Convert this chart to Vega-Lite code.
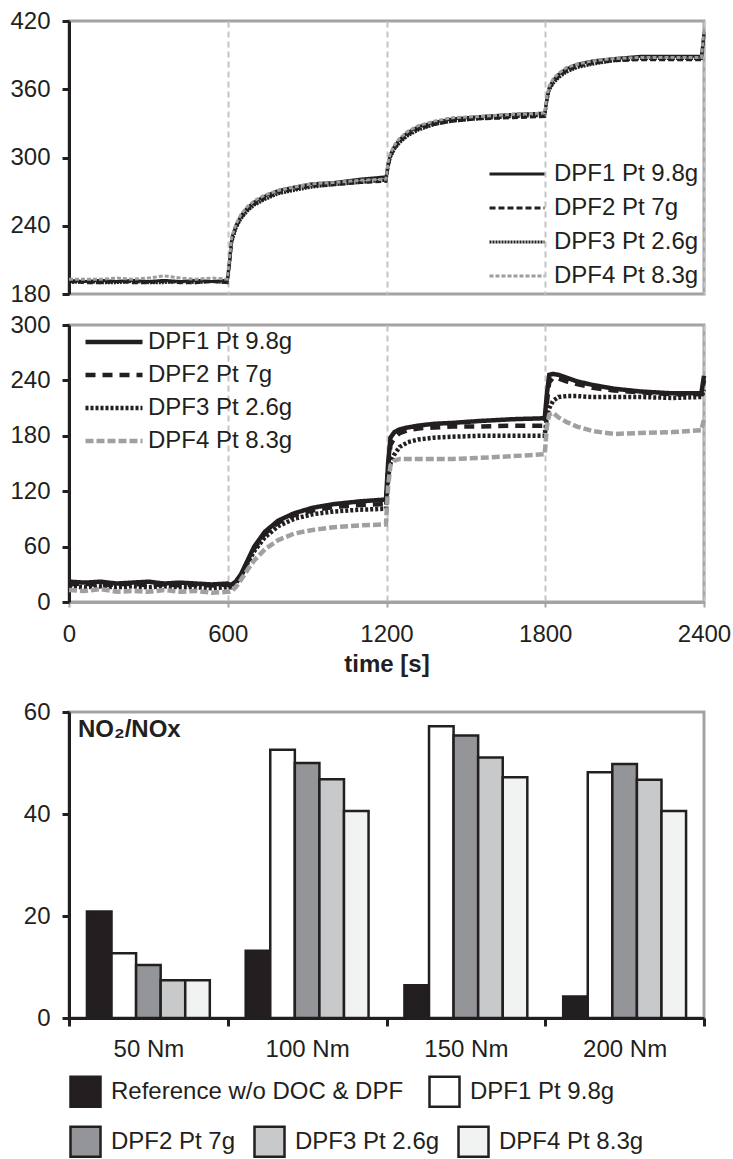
{
  "$schema": "https://vega.github.io/schema/vega-lite/v6.json",
  "background": "white",
  "padding": {"left": 8, "top": 7, "right": 5, "bottom": 0},
  "config": {
    "font": "Liberation Sans",
    "view": {"stroke": "#a3a3a3", "strokeWidth": 3},
    "axis": {"labelFont": "Liberation Sans", "labelFontSize": 24, "labelColor": "#231f20", "labelFlush": false, "domainColor": "#231f20", "domainWidth": 3, "tickColor": "#231f20", "tickWidth": 3, "tickSize": 7, "labelPadding": 12, "titleFont": "Liberation Sans", "titleFontSize": 24, "titleFontWeight": "bold", "titleColor": "#231f20", "grid": false},
    "legend": {"labelFont": "Liberation Sans", "labelFontSize": 24, "labelColor": "#231f20", "labelLimit": 500, "layout": {"bottom": {"anchor": "start", "direction": "vertical", "margin": 13}}}
  },
  "datasets": {
    "top": [
      {"t":0,"s":"DPF1 Pt 9.8g","v":192},{"t":60,"s":"DPF1 Pt 9.8g","v":191},{"t":120,"s":"DPF1 Pt 9.8g","v":192},{"t":180,"s":"DPF1 Pt 9.8g","v":191},{"t":240,"s":"DPF1 Pt 9.8g","v":192},{"t":300,"s":"DPF1 Pt 9.8g","v":191},{"t":360,"s":"DPF1 Pt 9.8g","v":192},{"t":420,"s":"DPF1 Pt 9.8g","v":191},{"t":480,"s":"DPF1 Pt 9.8g","v":192},{"t":540,"s":"DPF1 Pt 9.8g","v":191},{"t":598,"s":"DPF1 Pt 9.8g","v":192},{"t":606,"s":"DPF1 Pt 9.8g","v":208},{"t":615,"s":"DPF1 Pt 9.8g","v":229},{"t":630,"s":"DPF1 Pt 9.8g","v":240},{"t":650,"s":"DPF1 Pt 9.8g","v":249},{"t":675,"s":"DPF1 Pt 9.8g","v":256},{"t":700,"s":"DPF1 Pt 9.8g","v":261},{"t":740,"s":"DPF1 Pt 9.8g","v":266},{"t":790,"s":"DPF1 Pt 9.8g","v":271},{"t":850,"s":"DPF1 Pt 9.8g","v":274},{"t":920,"s":"DPF1 Pt 9.8g","v":277},{"t":1000,"s":"DPF1 Pt 9.8g","v":278},{"t":1100,"s":"DPF1 Pt 9.8g","v":281},{"t":1198,"s":"DPF1 Pt 9.8g","v":283},{"t":1206,"s":"DPF1 Pt 9.8g","v":295},{"t":1215,"s":"DPF1 Pt 9.8g","v":303},{"t":1230,"s":"DPF1 Pt 9.8g","v":310},{"t":1250,"s":"DPF1 Pt 9.8g","v":316},{"t":1280,"s":"DPF1 Pt 9.8g","v":322},{"t":1320,"s":"DPF1 Pt 9.8g","v":327},{"t":1380,"s":"DPF1 Pt 9.8g","v":331},{"t":1450,"s":"DPF1 Pt 9.8g","v":334},{"t":1550,"s":"DPF1 Pt 9.8g","v":336},{"t":1680,"s":"DPF1 Pt 9.8g","v":338},{"t":1798,"s":"DPF1 Pt 9.8g","v":339},{"t":1806,"s":"DPF1 Pt 9.8g","v":352},{"t":1815,"s":"DPF1 Pt 9.8g","v":362},{"t":1830,"s":"DPF1 Pt 9.8g","v":368},{"t":1850,"s":"DPF1 Pt 9.8g","v":373},{"t":1880,"s":"DPF1 Pt 9.8g","v":378},{"t":1920,"s":"DPF1 Pt 9.8g","v":382},{"t":1980,"s":"DPF1 Pt 9.8g","v":385},{"t":2060,"s":"DPF1 Pt 9.8g","v":387},{"t":2160,"s":"DPF1 Pt 9.8g","v":389},{"t":2280,"s":"DPF1 Pt 9.8g","v":389},{"t":2390,"s":"DPF1 Pt 9.8g","v":389},{"t":2400,"s":"DPF1 Pt 9.8g","v":410},
      {"t":0,"s":"DPF2 Pt 7g","v":191},{"t":60,"s":"DPF2 Pt 7g","v":190},{"t":120,"s":"DPF2 Pt 7g","v":190},{"t":180,"s":"DPF2 Pt 7g","v":191},{"t":240,"s":"DPF2 Pt 7g","v":190},{"t":300,"s":"DPF2 Pt 7g","v":190},{"t":360,"s":"DPF2 Pt 7g","v":191},{"t":420,"s":"DPF2 Pt 7g","v":190},{"t":480,"s":"DPF2 Pt 7g","v":190},{"t":540,"s":"DPF2 Pt 7g","v":191},{"t":598,"s":"DPF2 Pt 7g","v":190},{"t":606,"s":"DPF2 Pt 7g","v":205},{"t":615,"s":"DPF2 Pt 7g","v":226},{"t":630,"s":"DPF2 Pt 7g","v":238},{"t":650,"s":"DPF2 Pt 7g","v":247},{"t":675,"s":"DPF2 Pt 7g","v":254},{"t":700,"s":"DPF2 Pt 7g","v":259},{"t":740,"s":"DPF2 Pt 7g","v":264},{"t":790,"s":"DPF2 Pt 7g","v":269},{"t":850,"s":"DPF2 Pt 7g","v":272},{"t":920,"s":"DPF2 Pt 7g","v":275},{"t":1000,"s":"DPF2 Pt 7g","v":276},{"t":1100,"s":"DPF2 Pt 7g","v":278},{"t":1198,"s":"DPF2 Pt 7g","v":279},{"t":1206,"s":"DPF2 Pt 7g","v":292},{"t":1215,"s":"DPF2 Pt 7g","v":301},{"t":1230,"s":"DPF2 Pt 7g","v":308},{"t":1250,"s":"DPF2 Pt 7g","v":314},{"t":1280,"s":"DPF2 Pt 7g","v":320},{"t":1320,"s":"DPF2 Pt 7g","v":325},{"t":1380,"s":"DPF2 Pt 7g","v":329},{"t":1450,"s":"DPF2 Pt 7g","v":332},{"t":1550,"s":"DPF2 Pt 7g","v":334},{"t":1680,"s":"DPF2 Pt 7g","v":335},{"t":1798,"s":"DPF2 Pt 7g","v":336},{"t":1806,"s":"DPF2 Pt 7g","v":350},{"t":1815,"s":"DPF2 Pt 7g","v":360},{"t":1830,"s":"DPF2 Pt 7g","v":366},{"t":1850,"s":"DPF2 Pt 7g","v":371},{"t":1880,"s":"DPF2 Pt 7g","v":376},{"t":1920,"s":"DPF2 Pt 7g","v":380},{"t":1980,"s":"DPF2 Pt 7g","v":383},{"t":2060,"s":"DPF2 Pt 7g","v":385},{"t":2160,"s":"DPF2 Pt 7g","v":386},{"t":2280,"s":"DPF2 Pt 7g","v":386},{"t":2390,"s":"DPF2 Pt 7g","v":386},{"t":2400,"s":"DPF2 Pt 7g","v":408},
      {"t":0,"s":"DPF3 Pt 2.6g","v":190},{"t":60,"s":"DPF3 Pt 2.6g","v":191},{"t":120,"s":"DPF3 Pt 2.6g","v":190},{"t":180,"s":"DPF3 Pt 2.6g","v":190},{"t":240,"s":"DPF3 Pt 2.6g","v":191},{"t":300,"s":"DPF3 Pt 2.6g","v":190},{"t":360,"s":"DPF3 Pt 2.6g","v":190},{"t":420,"s":"DPF3 Pt 2.6g","v":191},{"t":480,"s":"DPF3 Pt 2.6g","v":190},{"t":540,"s":"DPF3 Pt 2.6g","v":191},{"t":598,"s":"DPF3 Pt 2.6g","v":190},{"t":606,"s":"DPF3 Pt 2.6g","v":204},{"t":615,"s":"DPF3 Pt 2.6g","v":225},{"t":630,"s":"DPF3 Pt 2.6g","v":237},{"t":650,"s":"DPF3 Pt 2.6g","v":246},{"t":675,"s":"DPF3 Pt 2.6g","v":253},{"t":700,"s":"DPF3 Pt 2.6g","v":258},{"t":740,"s":"DPF3 Pt 2.6g","v":263},{"t":790,"s":"DPF3 Pt 2.6g","v":268},{"t":850,"s":"DPF3 Pt 2.6g","v":271},{"t":920,"s":"DPF3 Pt 2.6g","v":274},{"t":1000,"s":"DPF3 Pt 2.6g","v":276},{"t":1100,"s":"DPF3 Pt 2.6g","v":278},{"t":1198,"s":"DPF3 Pt 2.6g","v":280},{"t":1206,"s":"DPF3 Pt 2.6g","v":291},{"t":1215,"s":"DPF3 Pt 2.6g","v":300},{"t":1230,"s":"DPF3 Pt 2.6g","v":307},{"t":1250,"s":"DPF3 Pt 2.6g","v":313},{"t":1280,"s":"DPF3 Pt 2.6g","v":319},{"t":1320,"s":"DPF3 Pt 2.6g","v":324},{"t":1380,"s":"DPF3 Pt 2.6g","v":329},{"t":1450,"s":"DPF3 Pt 2.6g","v":332},{"t":1550,"s":"DPF3 Pt 2.6g","v":334},{"t":1680,"s":"DPF3 Pt 2.6g","v":336},{"t":1798,"s":"DPF3 Pt 2.6g","v":337},{"t":1806,"s":"DPF3 Pt 2.6g","v":349},{"t":1815,"s":"DPF3 Pt 2.6g","v":359},{"t":1830,"s":"DPF3 Pt 2.6g","v":365},{"t":1850,"s":"DPF3 Pt 2.6g","v":370},{"t":1880,"s":"DPF3 Pt 2.6g","v":375},{"t":1920,"s":"DPF3 Pt 2.6g","v":379},{"t":1980,"s":"DPF3 Pt 2.6g","v":382},{"t":2060,"s":"DPF3 Pt 2.6g","v":385},{"t":2160,"s":"DPF3 Pt 2.6g","v":387},{"t":2280,"s":"DPF3 Pt 2.6g","v":387},{"t":2390,"s":"DPF3 Pt 2.6g","v":387},{"t":2400,"s":"DPF3 Pt 2.6g","v":407},
      {"t":0,"s":"DPF4 Pt 8.3g","v":193},{"t":60,"s":"DPF4 Pt 8.3g","v":193},{"t":120,"s":"DPF4 Pt 8.3g","v":193},{"t":180,"s":"DPF4 Pt 8.3g","v":194},{"t":240,"s":"DPF4 Pt 8.3g","v":193},{"t":300,"s":"DPF4 Pt 8.3g","v":194},{"t":360,"s":"DPF4 Pt 8.3g","v":196},{"t":420,"s":"DPF4 Pt 8.3g","v":194},{"t":480,"s":"DPF4 Pt 8.3g","v":193},{"t":540,"s":"DPF4 Pt 8.3g","v":194},{"t":598,"s":"DPF4 Pt 8.3g","v":193},{"t":606,"s":"DPF4 Pt 8.3g","v":210},{"t":615,"s":"DPF4 Pt 8.3g","v":230},{"t":630,"s":"DPF4 Pt 8.3g","v":241},{"t":650,"s":"DPF4 Pt 8.3g","v":250},{"t":675,"s":"DPF4 Pt 8.3g","v":257},{"t":700,"s":"DPF4 Pt 8.3g","v":262},{"t":740,"s":"DPF4 Pt 8.3g","v":267},{"t":790,"s":"DPF4 Pt 8.3g","v":271},{"t":850,"s":"DPF4 Pt 8.3g","v":274},{"t":920,"s":"DPF4 Pt 8.3g","v":277},{"t":1000,"s":"DPF4 Pt 8.3g","v":278},{"t":1100,"s":"DPF4 Pt 8.3g","v":280},{"t":1198,"s":"DPF4 Pt 8.3g","v":281},{"t":1206,"s":"DPF4 Pt 8.3g","v":296},{"t":1215,"s":"DPF4 Pt 8.3g","v":304},{"t":1230,"s":"DPF4 Pt 8.3g","v":311},{"t":1250,"s":"DPF4 Pt 8.3g","v":317},{"t":1280,"s":"DPF4 Pt 8.3g","v":323},{"t":1320,"s":"DPF4 Pt 8.3g","v":328},{"t":1380,"s":"DPF4 Pt 8.3g","v":332},{"t":1450,"s":"DPF4 Pt 8.3g","v":335},{"t":1550,"s":"DPF4 Pt 8.3g","v":336},{"t":1680,"s":"DPF4 Pt 8.3g","v":338},{"t":1798,"s":"DPF4 Pt 8.3g","v":339},{"t":1806,"s":"DPF4 Pt 8.3g","v":353},{"t":1815,"s":"DPF4 Pt 8.3g","v":363},{"t":1830,"s":"DPF4 Pt 8.3g","v":369},{"t":1850,"s":"DPF4 Pt 8.3g","v":374},{"t":1880,"s":"DPF4 Pt 8.3g","v":379},{"t":1920,"s":"DPF4 Pt 8.3g","v":382},{"t":1980,"s":"DPF4 Pt 8.3g","v":385},{"t":2060,"s":"DPF4 Pt 8.3g","v":387},{"t":2160,"s":"DPF4 Pt 8.3g","v":388},{"t":2280,"s":"DPF4 Pt 8.3g","v":388},{"t":2390,"s":"DPF4 Pt 8.3g","v":388},{"t":2400,"s":"DPF4 Pt 8.3g","v":412}
    ],
    "mid": [
      {"t":0,"s":"DPF1 Pt 9.8g","v":22},{"t":60,"s":"DPF1 Pt 9.8g","v":21},{"t":120,"s":"DPF1 Pt 9.8g","v":22},{"t":180,"s":"DPF1 Pt 9.8g","v":20},{"t":240,"s":"DPF1 Pt 9.8g","v":21},{"t":300,"s":"DPF1 Pt 9.8g","v":22},{"t":360,"s":"DPF1 Pt 9.8g","v":20},{"t":420,"s":"DPF1 Pt 9.8g","v":21},{"t":480,"s":"DPF1 Pt 9.8g","v":20},{"t":540,"s":"DPF1 Pt 9.8g","v":19},{"t":598,"s":"DPF1 Pt 9.8g","v":20},{"t":606,"s":"DPF1 Pt 9.8g","v":19},{"t":615,"s":"DPF1 Pt 9.8g","v":19},{"t":630,"s":"DPF1 Pt 9.8g","v":22},{"t":650,"s":"DPF1 Pt 9.8g","v":30},{"t":675,"s":"DPF1 Pt 9.8g","v":45},{"t":700,"s":"DPF1 Pt 9.8g","v":60},{"t":740,"s":"DPF1 Pt 9.8g","v":76},{"t":790,"s":"DPF1 Pt 9.8g","v":88},{"t":850,"s":"DPF1 Pt 9.8g","v":96},{"t":920,"s":"DPF1 Pt 9.8g","v":102},{"t":1000,"s":"DPF1 Pt 9.8g","v":106},{"t":1100,"s":"DPF1 Pt 9.8g","v":109},{"t":1198,"s":"DPF1 Pt 9.8g","v":111},{"t":1206,"s":"DPF1 Pt 9.8g","v":150},{"t":1215,"s":"DPF1 Pt 9.8g","v":178},{"t":1230,"s":"DPF1 Pt 9.8g","v":184},{"t":1250,"s":"DPF1 Pt 9.8g","v":187},{"t":1280,"s":"DPF1 Pt 9.8g","v":189},{"t":1320,"s":"DPF1 Pt 9.8g","v":191},{"t":1380,"s":"DPF1 Pt 9.8g","v":193},{"t":1450,"s":"DPF1 Pt 9.8g","v":194},{"t":1550,"s":"DPF1 Pt 9.8g","v":196},{"t":1680,"s":"DPF1 Pt 9.8g","v":198},{"t":1798,"s":"DPF1 Pt 9.8g","v":199},{"t":1806,"s":"DPF1 Pt 9.8g","v":225},{"t":1815,"s":"DPF1 Pt 9.8g","v":246},{"t":1830,"s":"DPF1 Pt 9.8g","v":247},{"t":1850,"s":"DPF1 Pt 9.8g","v":246},{"t":1880,"s":"DPF1 Pt 9.8g","v":243},{"t":1920,"s":"DPF1 Pt 9.8g","v":239},{"t":1980,"s":"DPF1 Pt 9.8g","v":235},{"t":2060,"s":"DPF1 Pt 9.8g","v":231},{"t":2160,"s":"DPF1 Pt 9.8g","v":228},{"t":2280,"s":"DPF1 Pt 9.8g","v":226},{"t":2390,"s":"DPF1 Pt 9.8g","v":226},{"t":2400,"s":"DPF1 Pt 9.8g","v":245},
      {"t":0,"s":"DPF2 Pt 7g","v":19},{"t":60,"s":"DPF2 Pt 7g","v":20},{"t":120,"s":"DPF2 Pt 7g","v":18},{"t":180,"s":"DPF2 Pt 7g","v":19},{"t":240,"s":"DPF2 Pt 7g","v":20},{"t":300,"s":"DPF2 Pt 7g","v":18},{"t":360,"s":"DPF2 Pt 7g","v":19},{"t":420,"s":"DPF2 Pt 7g","v":18},{"t":480,"s":"DPF2 Pt 7g","v":19},{"t":540,"s":"DPF2 Pt 7g","v":18},{"t":598,"s":"DPF2 Pt 7g","v":19},{"t":606,"s":"DPF2 Pt 7g","v":18},{"t":615,"s":"DPF2 Pt 7g","v":18},{"t":630,"s":"DPF2 Pt 7g","v":21},{"t":650,"s":"DPF2 Pt 7g","v":29},{"t":675,"s":"DPF2 Pt 7g","v":44},{"t":700,"s":"DPF2 Pt 7g","v":58},{"t":740,"s":"DPF2 Pt 7g","v":74},{"t":790,"s":"DPF2 Pt 7g","v":86},{"t":850,"s":"DPF2 Pt 7g","v":94},{"t":920,"s":"DPF2 Pt 7g","v":99},{"t":1000,"s":"DPF2 Pt 7g","v":103},{"t":1100,"s":"DPF2 Pt 7g","v":105},{"t":1198,"s":"DPF2 Pt 7g","v":106},{"t":1206,"s":"DPF2 Pt 7g","v":145},{"t":1215,"s":"DPF2 Pt 7g","v":170},{"t":1230,"s":"DPF2 Pt 7g","v":178},{"t":1250,"s":"DPF2 Pt 7g","v":183},{"t":1280,"s":"DPF2 Pt 7g","v":186},{"t":1320,"s":"DPF2 Pt 7g","v":188},{"t":1380,"s":"DPF2 Pt 7g","v":189},{"t":1450,"s":"DPF2 Pt 7g","v":190},{"t":1550,"s":"DPF2 Pt 7g","v":190},{"t":1680,"s":"DPF2 Pt 7g","v":191},{"t":1798,"s":"DPF2 Pt 7g","v":191},{"t":1806,"s":"DPF2 Pt 7g","v":215},{"t":1815,"s":"DPF2 Pt 7g","v":238},{"t":1830,"s":"DPF2 Pt 7g","v":243},{"t":1850,"s":"DPF2 Pt 7g","v":242},{"t":1880,"s":"DPF2 Pt 7g","v":239},{"t":1920,"s":"DPF2 Pt 7g","v":236},{"t":1980,"s":"DPF2 Pt 7g","v":232},{"t":2060,"s":"DPF2 Pt 7g","v":229},{"t":2160,"s":"DPF2 Pt 7g","v":227},{"t":2280,"s":"DPF2 Pt 7g","v":225},{"t":2390,"s":"DPF2 Pt 7g","v":225},{"t":2400,"s":"DPF2 Pt 7g","v":240},
      {"t":0,"s":"DPF3 Pt 2.6g","v":17},{"t":60,"s":"DPF3 Pt 2.6g","v":16},{"t":120,"s":"DPF3 Pt 2.6g","v":17},{"t":180,"s":"DPF3 Pt 2.6g","v":16},{"t":240,"s":"DPF3 Pt 2.6g","v":17},{"t":300,"s":"DPF3 Pt 2.6g","v":16},{"t":360,"s":"DPF3 Pt 2.6g","v":17},{"t":420,"s":"DPF3 Pt 2.6g","v":16},{"t":480,"s":"DPF3 Pt 2.6g","v":16},{"t":540,"s":"DPF3 Pt 2.6g","v":15},{"t":598,"s":"DPF3 Pt 2.6g","v":16},{"t":606,"s":"DPF3 Pt 2.6g","v":16},{"t":615,"s":"DPF3 Pt 2.6g","v":16},{"t":630,"s":"DPF3 Pt 2.6g","v":20},{"t":650,"s":"DPF3 Pt 2.6g","v":28},{"t":675,"s":"DPF3 Pt 2.6g","v":42},{"t":700,"s":"DPF3 Pt 2.6g","v":55},{"t":740,"s":"DPF3 Pt 2.6g","v":70},{"t":790,"s":"DPF3 Pt 2.6g","v":82},{"t":850,"s":"DPF3 Pt 2.6g","v":90},{"t":920,"s":"DPF3 Pt 2.6g","v":95},{"t":1000,"s":"DPF3 Pt 2.6g","v":98},{"t":1100,"s":"DPF3 Pt 2.6g","v":100},{"t":1198,"s":"DPF3 Pt 2.6g","v":101},{"t":1206,"s":"DPF3 Pt 2.6g","v":135},{"t":1215,"s":"DPF3 Pt 2.6g","v":150},{"t":1230,"s":"DPF3 Pt 2.6g","v":160},{"t":1250,"s":"DPF3 Pt 2.6g","v":168},{"t":1280,"s":"DPF3 Pt 2.6g","v":173},{"t":1320,"s":"DPF3 Pt 2.6g","v":176},{"t":1380,"s":"DPF3 Pt 2.6g","v":178},{"t":1450,"s":"DPF3 Pt 2.6g","v":179},{"t":1550,"s":"DPF3 Pt 2.6g","v":180},{"t":1680,"s":"DPF3 Pt 2.6g","v":180},{"t":1798,"s":"DPF3 Pt 2.6g","v":180},{"t":1806,"s":"DPF3 Pt 2.6g","v":200},{"t":1815,"s":"DPF3 Pt 2.6g","v":210},{"t":1830,"s":"DPF3 Pt 2.6g","v":218},{"t":1850,"s":"DPF3 Pt 2.6g","v":222},{"t":1880,"s":"DPF3 Pt 2.6g","v":223},{"t":1920,"s":"DPF3 Pt 2.6g","v":223},{"t":1980,"s":"DPF3 Pt 2.6g","v":222},{"t":2060,"s":"DPF3 Pt 2.6g","v":222},{"t":2160,"s":"DPF3 Pt 2.6g","v":222},{"t":2280,"s":"DPF3 Pt 2.6g","v":221},{"t":2390,"s":"DPF3 Pt 2.6g","v":222},{"t":2400,"s":"DPF3 Pt 2.6g","v":230},
      {"t":0,"s":"DPF4 Pt 8.3g","v":13},{"t":60,"s":"DPF4 Pt 8.3g","v":12},{"t":120,"s":"DPF4 Pt 8.3g","v":14},{"t":180,"s":"DPF4 Pt 8.3g","v":11},{"t":240,"s":"DPF4 Pt 8.3g","v":12},{"t":300,"s":"DPF4 Pt 8.3g","v":11},{"t":360,"s":"DPF4 Pt 8.3g","v":13},{"t":420,"s":"DPF4 Pt 8.3g","v":11},{"t":480,"s":"DPF4 Pt 8.3g","v":12},{"t":540,"s":"DPF4 Pt 8.3g","v":10},{"t":598,"s":"DPF4 Pt 8.3g","v":11},{"t":606,"s":"DPF4 Pt 8.3g","v":11},{"t":615,"s":"DPF4 Pt 8.3g","v":12},{"t":630,"s":"DPF4 Pt 8.3g","v":16},{"t":650,"s":"DPF4 Pt 8.3g","v":24},{"t":675,"s":"DPF4 Pt 8.3g","v":35},{"t":700,"s":"DPF4 Pt 8.3g","v":45},{"t":740,"s":"DPF4 Pt 8.3g","v":57},{"t":790,"s":"DPF4 Pt 8.3g","v":67},{"t":850,"s":"DPF4 Pt 8.3g","v":74},{"t":920,"s":"DPF4 Pt 8.3g","v":78},{"t":1000,"s":"DPF4 Pt 8.3g","v":81},{"t":1100,"s":"DPF4 Pt 8.3g","v":83},{"t":1198,"s":"DPF4 Pt 8.3g","v":84},{"t":1206,"s":"DPF4 Pt 8.3g","v":125},{"t":1215,"s":"DPF4 Pt 8.3g","v":148},{"t":1230,"s":"DPF4 Pt 8.3g","v":153},{"t":1250,"s":"DPF4 Pt 8.3g","v":155},{"t":1280,"s":"DPF4 Pt 8.3g","v":155},{"t":1320,"s":"DPF4 Pt 8.3g","v":155},{"t":1380,"s":"DPF4 Pt 8.3g","v":155},{"t":1450,"s":"DPF4 Pt 8.3g","v":155},{"t":1550,"s":"DPF4 Pt 8.3g","v":156},{"t":1680,"s":"DPF4 Pt 8.3g","v":158},{"t":1798,"s":"DPF4 Pt 8.3g","v":160},{"t":1806,"s":"DPF4 Pt 8.3g","v":190},{"t":1815,"s":"DPF4 Pt 8.3g","v":203},{"t":1830,"s":"DPF4 Pt 8.3g","v":205},{"t":1850,"s":"DPF4 Pt 8.3g","v":200},{"t":1880,"s":"DPF4 Pt 8.3g","v":195},{"t":1920,"s":"DPF4 Pt 8.3g","v":190},{"t":1980,"s":"DPF4 Pt 8.3g","v":185},{"t":2060,"s":"DPF4 Pt 8.3g","v":182},{"t":2160,"s":"DPF4 Pt 8.3g","v":183},{"t":2280,"s":"DPF4 Pt 8.3g","v":184},{"t":2390,"s":"DPF4 Pt 8.3g","v":186},{"t":2400,"s":"DPF4 Pt 8.3g","v":198}
    ],
    "bars": [
      {"load":"50 Nm","s":"Reference w/o DOC & DPF","v":20.9},{"load":"50 Nm","s":"DPF1 Pt 9.8g","v":12.7},{"load":"50 Nm","s":"DPF2 Pt 7g","v":10.4},{"load":"50 Nm","s":"DPF3 Pt 2.6g","v":7.4},{"load":"50 Nm","s":"DPF4 Pt 8.3g","v":7.4},
      {"load":"100 Nm","s":"Reference w/o DOC & DPF","v":13.2},{"load":"100 Nm","s":"DPF1 Pt 9.8g","v":52.6},{"load":"100 Nm","s":"DPF2 Pt 7g","v":50.0},{"load":"100 Nm","s":"DPF3 Pt 2.6g","v":46.8},{"load":"100 Nm","s":"DPF4 Pt 8.3g","v":40.6},
      {"load":"150 Nm","s":"Reference w/o DOC & DPF","v":6.4},{"load":"150 Nm","s":"DPF1 Pt 9.8g","v":57.2},{"load":"150 Nm","s":"DPF2 Pt 7g","v":55.4},{"load":"150 Nm","s":"DPF3 Pt 2.6g","v":51.1},{"load":"150 Nm","s":"DPF4 Pt 8.3g","v":47.2},
      {"load":"200 Nm","s":"Reference w/o DOC & DPF","v":4.2},{"load":"200 Nm","s":"DPF1 Pt 9.8g","v":48.2},{"load":"200 Nm","s":"DPF2 Pt 7g","v":49.8},{"load":"200 Nm","s":"DPF3 Pt 2.6g","v":46.7},{"load":"200 Nm","s":"DPF4 Pt 8.3g","v":40.6}
    ]
  },
  "vconcat": [
    {
      "vconcat": [
        {
          "width": 635, "height": 273,
          "data": {"name": "top"},
          "mark": {"type": "line"},
          "encoding": {
            "x": {"field": "t", "type": "quantitative", "scale": {"domain": [0, 2400], "nice": false}, "axis": {"values": [0, 600, 1200, 1800, 2400], "labels": false, "ticks": false, "domain": false, "title": null, "grid": true, "gridColor": "#c4c4c4", "gridDash": [6, 4], "gridWidth": 2}},
            "y": {"field": "v", "type": "quantitative", "scale": {"domain": [180, 420], "nice": false, "zero": false}, "axis": {"values": [180, 240, 300, 360, 420], "title": null}},
            "color": {"field": "s", "type": "nominal", "scale": {"domain": ["DPF1 Pt 9.8g", "DPF2 Pt 7g", "DPF3 Pt 2.6g", "DPF4 Pt 8.3g"], "range": ["#231f20", "#231f20", "#231f20", "#9d9d9d"]}, "legend": {"orient": "bottom-right", "title": null, "offset": 5, "padding": 0, "symbolType": "stroke", "symbolSize": 3025, "clipHeight": 26, "labelOffset": 8, "rowPadding": 8}},
            "strokeDash": {"field": "s", "type": "nominal", "scale": {"domain": ["DPF1 Pt 9.8g", "DPF2 Pt 7g", "DPF3 Pt 2.6g", "DPF4 Pt 8.3g"], "range": [[1, 0], [6, 3], [2, 1], [4, 2]]}, "legend": {"orient": "bottom-right", "title": null, "offset": 5, "padding": 0, "symbolType": "stroke", "symbolSize": 3025, "clipHeight": 26, "labelOffset": 8, "rowPadding": 8}},
            "strokeWidth": {"field": "s", "type": "nominal", "scale": {"domain": ["DPF1 Pt 9.8g", "DPF2 Pt 7g", "DPF3 Pt 2.6g", "DPF4 Pt 8.3g"], "range": [3, 3, 2.2, 2.5]}, "legend": {"orient": "bottom-right", "title": null, "offset": 5, "padding": 0, "symbolType": "stroke", "symbolSize": 3025, "clipHeight": 26, "labelOffset": 8, "rowPadding": 8}}
          }
        },
        {
          "width": 635, "height": 277,
          "data": {"name": "mid"},
          "mark": {"type": "line"},
          "encoding": {
            "x": {"field": "t", "type": "quantitative", "scale": {"domain": [0, 2400], "nice": false}, "axis": {"values": [0, 600, 1200, 1800, 2400], "format": "d", "title": "time [s]", "titlePadding": 6, "grid": true, "gridColor": "#c4c4c4", "gridDash": [6, 4], "gridWidth": 2, "domainColor": "#a3a3a3", "tickColor": "#a3a3a3", "tickSize": 5, "tickWidth": 2, "labelPadding": 15}},
            "y": {"field": "v", "type": "quantitative", "scale": {"domain": [0, 300], "nice": false}, "axis": {"values": [0, 60, 120, 180, 240, 300], "title": null}},
            "color": {"field": "s", "type": "nominal", "scale": {"domain": ["DPF1 Pt 9.8g", "DPF2 Pt 7g", "DPF3 Pt 2.6g", "DPF4 Pt 8.3g"], "range": ["#231f20", "#231f20", "#231f20", "#a0a0a0"]}, "legend": {"orient": "top-left", "title": null, "offset": 4, "padding": 0, "symbolType": "stroke", "symbolSize": 3249, "clipHeight": 26, "symbolOffset": 10, "labelOffset": 3, "rowPadding": 7}},
            "strokeDash": {"field": "s", "type": "nominal", "scale": {"domain": ["DPF1 Pt 9.8g", "DPF2 Pt 7g", "DPF3 Pt 2.6g", "DPF4 Pt 8.3g"], "range": [[1, 0], [10, 7], [3, 2], [8, 3]]}, "legend": {"orient": "top-left", "title": null, "offset": 4, "padding": 0, "symbolType": "stroke", "symbolSize": 3249, "clipHeight": 26, "symbolOffset": 10, "labelOffset": 3, "rowPadding": 7}},
            "strokeWidth": {"field": "s", "type": "nominal", "scale": {"domain": ["DPF1 Pt 9.8g", "DPF2 Pt 7g", "DPF3 Pt 2.6g", "DPF4 Pt 8.3g"], "range": [4.5, 4.5, 2.2, 5]}, "legend": {"orient": "top-left", "title": null, "offset": 4, "padding": 0, "symbolType": "stroke", "symbolSize": 3249, "clipHeight": 26, "symbolOffset": 10, "labelOffset": 3, "rowPadding": 7}}
          }
        }
      ],
      "spacing": 3,
      "resolve": {"scale": {"color": "independent", "strokeDash": "independent", "strokeWidth": "independent"}, "legend": {"color": "independent", "strokeDash": "independent", "strokeWidth": "independent"}}
    },
    {
      "width": 635, "height": 306,
      "data": {"name": "bars"},
      "layer": [
        {
          "transform": [{"filter": {"field": "s", "oneOf": ["Reference w/o DOC & DPF", "DPF1 Pt 9.8g"]}}],
          "mark": {"type": "bar", "stroke": "#231f20", "strokeWidth": 2.5},
          "encoding": {
            "x": {"field": "load", "type": "nominal", "scale": {"domain": ["50 Nm", "100 Nm", "150 Nm", "200 Nm"], "paddingInner": 0, "paddingOuter": 0}, "axis": {"title": null, "labelAngle": 0, "tickBand": "extent", "tickSize": 8, "labelPadding": 11}},
            "xOffset": {"field": "s", "type": "nominal", "scale": {"domain": ["Reference w/o DOC & DPF", "DPF1 Pt 9.8g", "DPF2 Pt 7g", "DPF3 Pt 2.6g", "DPF4 Pt 8.3g"], "paddingInner": 0, "paddingOuter": 0.73}},
            "y": {"field": "v", "type": "quantitative", "scale": {"domain": [0, 60], "nice": false}, "axis": {"values": [0, 20, 40, 60], "title": null}},
            "fill": {"field": "s", "type": "nominal", "scale": {"domain": ["Reference w/o DOC & DPF", "DPF1 Pt 9.8g"], "range": ["#231f20", "#ffffff"]}, "legend": {"orient": "bottom", "direction": "horizontal", "title": null, "offset": 14, "padding": 0, "symbolType": "square", "symbolSize": 900, "symbolStrokeColor": "#231f20", "symbolStrokeWidth": 2.5, "labelOffset": 9, "columnPadding": 20}}
          }
        },
        {
          "transform": [{"filter": {"field": "s", "oneOf": ["DPF2 Pt 7g", "DPF3 Pt 2.6g", "DPF4 Pt 8.3g"]}}],
          "mark": {"type": "bar", "stroke": "#231f20", "strokeWidth": 2.5},
          "encoding": {
            "x": {"field": "load", "type": "nominal"},
            "xOffset": {"field": "s", "type": "nominal"},
            "y": {"field": "v", "type": "quantitative"},
            "color": {"field": "s", "type": "nominal", "scale": {"domain": ["DPF2 Pt 7g", "DPF3 Pt 2.6g", "DPF4 Pt 8.3g"], "range": ["#939598", "#c8c9cb", "#f1f2f2"]}, "legend": {"orient": "bottom", "direction": "horizontal", "title": null, "offset": 14, "padding": 0, "symbolType": "square", "symbolSize": 900, "symbolStrokeColor": "#231f20", "symbolStrokeWidth": 2.5, "labelOffset": 9, "columnPadding": 13}}
          }
        },
        {
          "data": {"values": [{"label": "NO₂/NOx"}]},
          "mark": {"type": "text", "align": "left", "baseline": "middle", "dx": 9, "fontSize": 24, "fontWeight": "bold", "font": "Liberation Sans", "color": "#231f20"},
          "encoding": {
            "x": {"datum": "50 Nm", "bandPosition": 0},
            "y": {"datum": 56.5},
            "text": {"field": "label"}
          }
        }
      ]
    }
  ],
  "spacing": 20,
  "resolve": {"scale": {"color": "independent", "strokeDash": "independent", "strokeWidth": "independent", "fill": "independent"}, "legend": {"color": "independent", "strokeDash": "independent", "strokeWidth": "independent", "fill": "independent"}}
}
